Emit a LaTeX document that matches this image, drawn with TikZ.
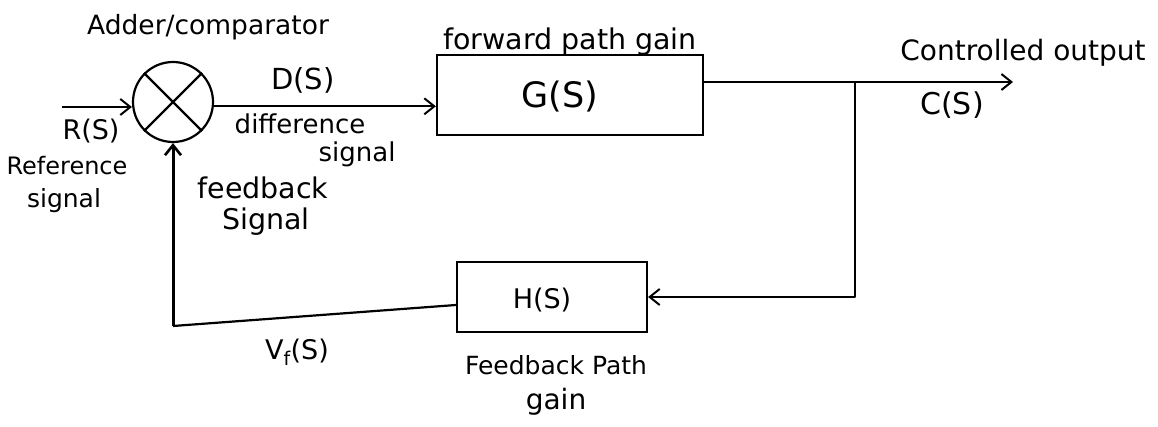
\documentclass[tikz,border=0pt]{standalone}
\usepackage{fontspec}
\setmainfont{DejaVu Sans}
\usetikzlibrary{arrows.meta,calc}
\begin{document}
\begin{tikzpicture}[x=1pt,y=-1pt,
  line/.style={line width=2.2pt, line join=round},
  arr/.style={line, -{Straight Barb[length=10pt,width=16pt,line width=2pt]}},
  fbarr/.style={line width=3pt, -{Straight Barb[length=10pt,width=16pt,line width=2.6pt]}},
  blk/.style={draw, line width=2.2pt, rectangle, inner sep=0pt},
  fs/.style={inner sep=0pt, font=\fontsize{#1}{#1}\selectfont}]
\useasboundingbox (0,0) rectangle (1158,427);
% blocks
\node[draw, circle, line width=2.2pt, minimum size=80pt, inner sep=0pt] (s) at (173,102) {};
\draw[line] (s.north west) -- (s.south east);
\draw[line] (s.north east) -- (s.south west);
\node[blk, minimum width=266pt, minimum height=80pt] (G) at (570,95) {};
\node[fs=35] (Gt) at (560,97) {G(S)};
\node[blk, minimum width=190pt, minimum height=70pt] (H) at (552,297) {};
\node[fs=27] (Ht) at (542,300) {H(S)};
% coordinates
\coordinate (rin) at (62,107);
\coordinate (br) at (855,82);
\coordinate (out) at (1013,82);
\coordinate (fb) at (173,326);
% connectors
\draw[arr] (rin) -- (rin -| s.west);
\draw[arr] (s.-6) -- (s.-6 -| G.west);
\draw[line] (br -| G.east) -- (br);
\draw[arr] (br) -- (out);
\draw[arr] (br) |- (H.east);
\draw[line] ($(H.west)+(0,8)$) -- (fb);
\draw[fbarr] (fb) -- (s.south);
% labels
\node[fs=26.5] (adder) at (208,27) {Adder/comparator};
\node[fs=29] (ds) at (303,80) {D(S)};
\node[fs=26] (diff) at (300,124) {difference};
\node[fs=26] (diffs) at (357,154) {signal};
\node[fs=27] (rs) at (91,131) {R(S)};
\node[fs=24] (ref) at (67,166) {Reference};
\node[fs=25] (refs) at (64,201) {signal};
\node[fs=28.5] (fpg) at (570,42) {forward path gain};
\node[fs=28] (co) at (1023,53) {Controlled output};
\node[fs=30] (cs) at (952,105) {C(S)};
\node[fs=28.5] (fbl) at (263,188) {feedback};
\node[fs=28.5] (fbs) at (266,222) {Signal};
\node[fs=27] (vf) at (297,352) {V\textsubscript{f}(S)};
\node[fs=25] (fpl) at (556,365) {Feedback Path};
\node[fs=28] (fpgn) at (556,402) {gain};
\end{tikzpicture}
\end{document}
